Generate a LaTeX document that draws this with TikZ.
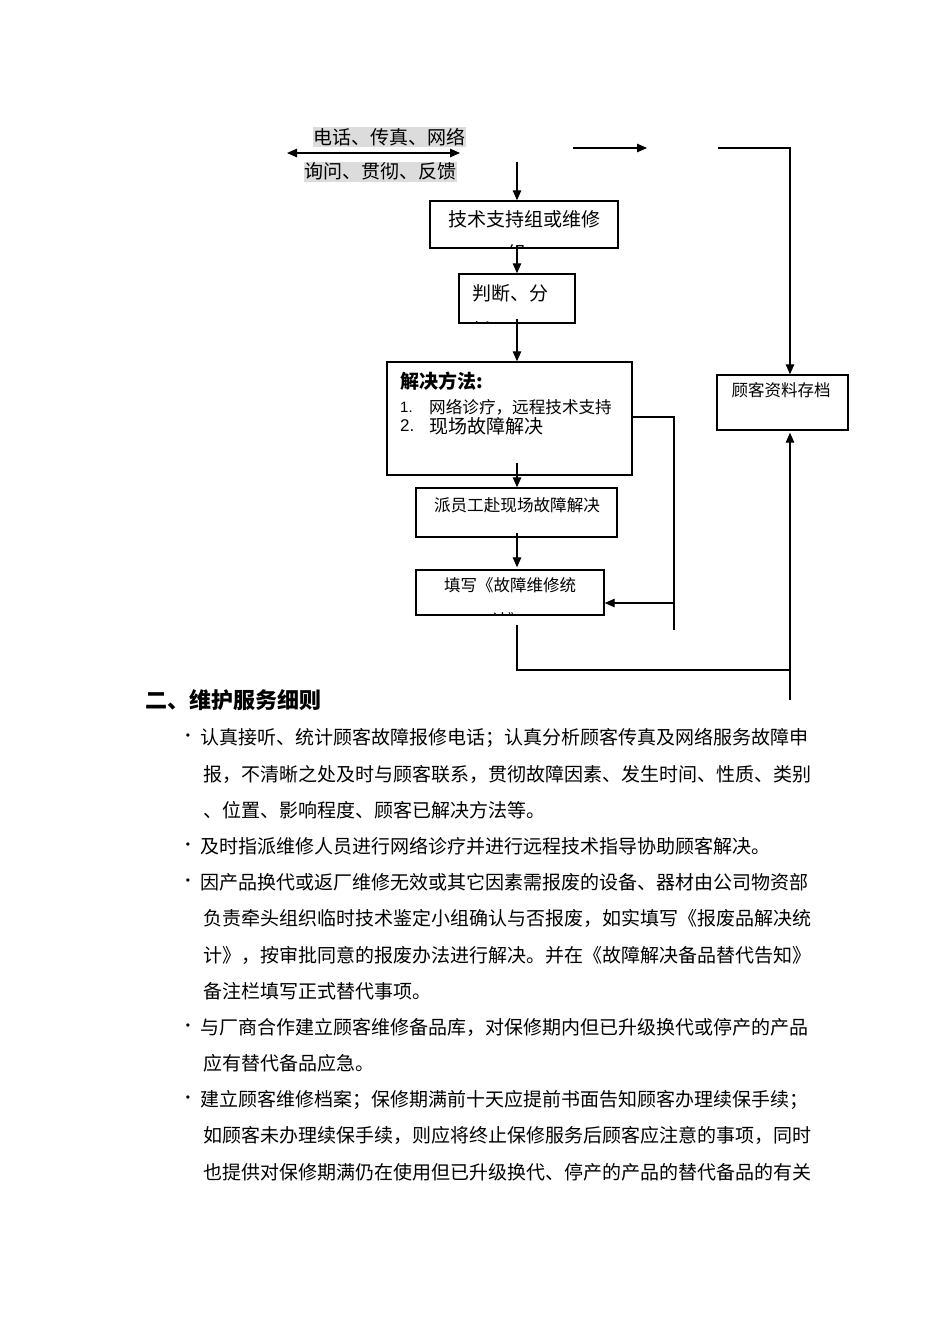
\documentclass[tikz,border=0pt]{standalone}
\usepackage{fontspec}
\setmainfont{Liberation Sans}
\newfontfamily\cjk{Noto Sans CJK SC}
\usetikzlibrary{arrows.meta,calc}
\definecolor{hl}{RGB}{220,220,220}
\tikzset{
  box/.style={draw, line width=1.4pt, rectangle, inner sep=0pt},
  conn/.style={line width=1.2pt},
  arr/.style={conn, -{Triangle[length=10pt,width=8.5pt]}},
  cjkt/.style={inner sep=0pt, font={\cjk\fontsize{#1}{#1}\selectfont},
    text height=0.88*#1 pt, text depth=0.12*#1 pt},
  cjkt/.default=19,
  cjkb/.style={inner sep=0pt, font={\cjk\bfseries\fontsize{#1}{#1}\selectfont},
    text height=0.88*#1 pt, text depth=0.12*#1 pt},
  cjkb/.default=19,
  hilite/.style={cjkt=19, fill=hl, inner xsep=0.5pt, inner ysep=0.5pt},
  numtxt/.style={inner sep=0pt, font={\fontsize{#1}{#1}\selectfont}},
  bul/.style={inner sep=0pt, font={\fontsize{12}{12}\selectfont}},
  para/.style={cjkt=19, anchor=west}
}
\begin{document}
\begin{tikzpicture}[x=1pt,y=-1pt]
\useasboundingbox (0,0) rectangle (950,1344);
\fill[white] (0,0) rectangle (950,1344);

% ---------- top labels ----------
\node[hilite] (l1) at (389,137) {电话、传真、网络};
\node[hilite] (l2) at (380,171.5) {询问、贯彻、反馈};
\coordinate (dl) at (287,153);
\coordinate (dr) at (460,153);
\draw[conn, {Triangle[length=10pt,width=8.5pt]}-{Triangle[length=10pt,width=8.5pt]}] (dl) -- (dr);
\coordinate (ta1) at (573,148);
\coordinate (ta2) at (647,148);
\draw[arr] (ta1) -- (ta2);

% ---------- axis coordinates ----------
\coordinate (ax) at (517,0);
\coordinate (rx) at (790,0);

% ---------- boxes ----------
\node[box, minimum width=188pt, minimum height=47pt] (b1) at (524,224.5) {};
\node[box, minimum width=116pt, minimum height=49pt] (b2) at (517,298.5) {};
\node[box, minimum width=245pt, minimum height=113pt] (b3) at (509.5,418.5) {};
\node[box, minimum width=201pt, minimum height=49pt] (b4) at (516.5,512.5) {};
\node[box, minimum width=188pt, minimum height=45pt] (b5) at (510,592.5) {};
\node[box, minimum width=131pt, minimum height=55pt] (b6) at (782.5,402.5) {};

% ---------- box texts ----------
\begin{scope}
  \clip (b1.south west) rectangle (b1.north east);
  \node[cjkt=19] (b1t1) at (524,219) {技术支持组或维修};
  \node[cjkt=19] (b1t2) at (517,253) {组};
\end{scope}
\begin{scope}
  \clip (b2.south west) rectangle (b2.north east);
  \node[cjkt=19, anchor=west] (b2t1) at (472,293) {判断、分};
  \node[cjkt=19, anchor=west] (b2t2) at (472,330) {析};
\end{scope}
\node[cjkb=19, anchor=west] (b3h) at (400,381) {解决方法:};
\node[numtxt=15, anchor=west] (b3n1) at (400,407) {1.};
\node[cjkt=16.6, anchor=west] (b3t1) at (429,407) {网络诊疗，远程技术支持};
\node[numtxt=17, anchor=west] (b3n2) at (400,426) {2.};
\node[cjkt=19, anchor=west] (b3t2) at (429,426) {现场故障解决};
\node[cjkt=16.6] (b4t) at (517,505) {派员工赴现场故障解决};
\begin{scope}
  \clip (b5.south west) rectangle (b5.north east);
  \node[cjkt=16.5] (b5t1) at (510,585) {填写《故障维修统};
  \node[cjkt=16.5] (b5t2) at (508,620) {计》};
\end{scope}
\node[cjkt=16.5] (b6t) at (781,390) {顾客资料存档};

% ---------- connectors ----------
\coordinate (tv) at (517,162);
\draw[arr] (tv) -- (b1.north -| ax);
\draw[arr] ([yshift=3pt]b1.south -| ax) -- (b2.north -| ax);
\draw[arr] ([yshift=5pt]b2.south -| ax) -- (b3.north -| ax);
\draw[arr] ([yshift=13pt]b3.south -| ax) -- (b4.north -| ax);
\draw[arr] ([yshift=5pt]b4.south -| ax) -- ([yshift=2pt]b5.north -| ax);

\coordinate (tr1) at (718,148);
\coordinate (tr2) at (790,148);
\draw[arr] (tr1) -- (tr2) -- (b6.north -| rx);

\coordinate (m1) at (674,417);
\coordinate (m2) at (674,630);
\coordinate (m3) at (674,603);
\draw[conn] (b3.east |- m1) -- (m1) -- (m2);
\draw[arr] (m3) -- (b5.east |- m3);

\coordinate (bl) at (517,670);
\coordinate (br) at (790,670);
\coordinate (rb) at (790,700);
\draw[conn] ([yshift=-9pt]b5.south -| ax) -- (bl) -- (br);
\draw[arr, shorten >=2pt] (rb) -- (b6.south -| rx);

% ---------- heading ----------
\node[cjkb=22, anchor=west] (head) at (145,700) {二、维护服务细则};

% ---------- bullets ----------
\node[bul] (d1) at (188,737) {•};
\node[bul] (d2) at (188,846) {•};
\node[bul] (d3) at (188,882) {•};
\node[bul] (d4) at (188,1027) {•};
\node[bul] (d5) at (188,1099) {•};

\node[para] (p1) at (200,737) {认真接听、统计顾客故障报修电话；认真分析顾客传真及网络服务故障申};
\node[para] (p2) at (203,774) {报，不清晰之处及时与顾客联系，贯彻故障因素、发生时间、性质、类别};
\node[para] (p3) at (203,810) {、位置、影响程度、顾客已解决方法等。};
\node[para] (p4) at (200,846) {及时指派维修人员进行网络诊疗并进行远程技术指导协助顾客解决。};
\node[para] (p5) at (200,882) {因产品换代或返厂维修无效或其它因素需报废的设备、器材由公司物资部};
\node[para] (p6) at (203,918) {负责牵头组织临时技术鉴定小组确认与否报废，如实填写《报废品解决统};
\node[para] (p7) at (203,955) {计》，按审批同意的报废办法进行解决。并在《故障解决备品替代告知》};
\node[para] (p8) at (203,991) {备注栏填写正式替代事项。};
\node[para] (p9) at (200,1027) {与厂商合作建立顾客维修备品库，对保修期内但已升级换代或停产的产品};
\node[para] (p10) at (203,1063) {应有替代备品应急。};
\node[para] (p11) at (200,1099) {建立顾客维修档案；保修期满前十天应提前书面告知顾客办理续保手续；};
\node[para] (p12) at (203,1135) {如顾客未办理续保手续，则应将终止保修服务后顾客应注意的事项，同时};
\node[para] (p13) at (203,1172) {也提供对保修期满仍在使用但已升级换代、停产的产品的替代备品的有关};
\end{tikzpicture}
\end{document}
